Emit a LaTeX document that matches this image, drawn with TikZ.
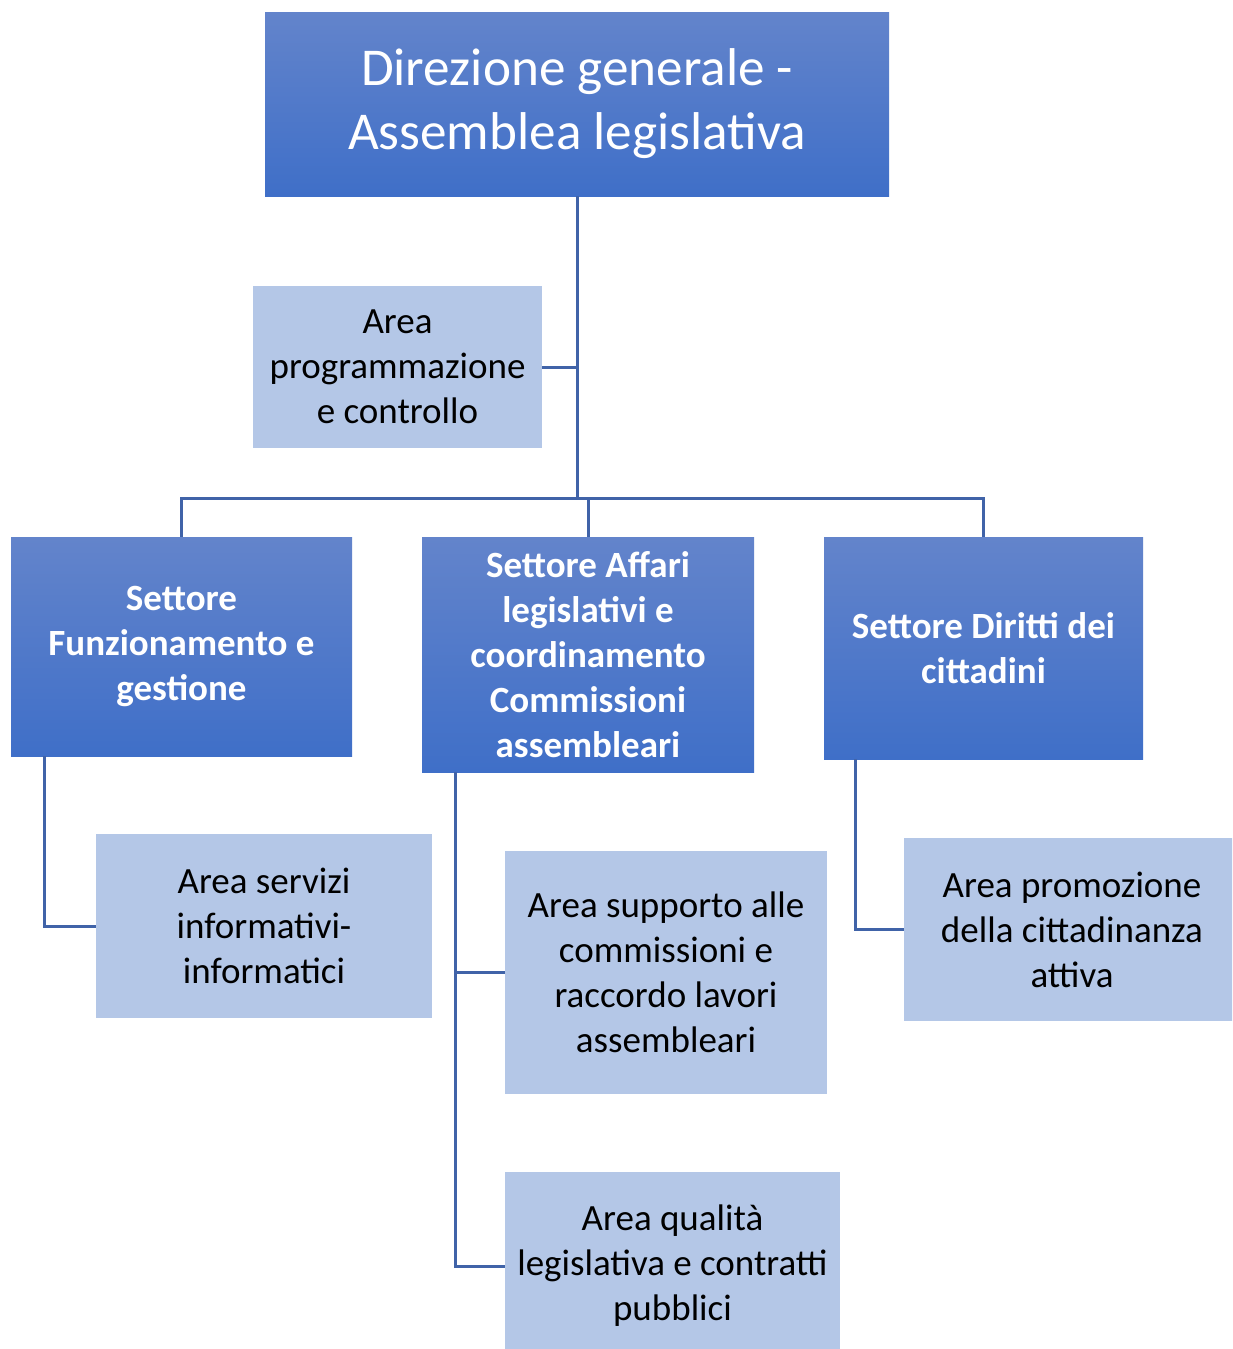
\documentclass[tikz,border=0pt]{standalone}
\usepackage{fontspec}
\setmainfont{Carlito}
\usepackage{tikz}
\definecolor{settop}{RGB}{99,132,203}
\definecolor{setbot}{RGB}{63,111,200}
\definecolor{areafill}{RGB}{180,199,231}
\definecolor{linkcol}{RGB}{64,99,168}
\def\bodyfont{\fontsize{18.5}{22.5}\selectfont}

\begin{document}
\begin{tikzpicture}[x=0.5pt,y=-0.5pt,
  settore/.style={rectangle,inner sep=0pt,top color=settop,bottom color=setbot,
    text=white,font=\bodyfont\bfseries,align=center},
  area/.style={rectangle,inner sep=0pt,fill=areafill,text=black,
    font=\bodyfont,align=center},
  link/.style={draw=linkcol,line width=1.5pt}]
\clip (0,0) rectangle (1232,1349);
\useasboundingbox (0,0) rectangle (1232,1349);
\node[settore,font=\fontsize{26.6}{32}\selectfont,minimum width=312pt,minimum height=92pt]
  (dir) at (577,104) {Direzione generale -\\Assemblea legislativa};
\node[area,minimum width=144.5pt,minimum height=81pt]
  (apc) at (397.5,367) {Area\\programmazione\\e controllo};
\node[settore,minimum width=170.5pt,minimum height=109.5pt]
  (sfg) at (181.5,646.5) {Settore\\Funzionamento e\\gestione};
\node[settore,minimum width=166pt,minimum height=117.5pt]
  (sal) at (588,654.5) {Settore Affari\\legislativi e\\coordinamento\\Commissioni\\assembleari};
\node[settore,minimum width=159.5pt,minimum height=111pt]
  (sdc) at (983.5,648) {Settore Diritti dei\\cittadini};
\node[area,minimum width=168pt,minimum height=92pt]
  (asi) at (264,926) {Area servizi\\informativi-\\informatici};
\node[area,minimum width=161pt,minimum height=121.5pt]
  (asr) at (666,972.5) {Area supporto alle\\commissioni e\\raccordo lavori\\assembleari};
\node[area,minimum width=167.5pt,minimum height=94pt]
  (aqc) at (672.5,1266) {Area qualità\\legislativa e contratti\\pubblici};
\node[area,minimum width=168pt,minimum height=91.5pt]
  (apr) at (1072,929.5) {Area promozione\\della cittadinanza\\attiva};
\coordinate (hub) at (577,498);
\draw[link] (dir.south) -- (hub);
\draw[link] (apc.east) -- (apc.east -| hub);
\draw[link] (sfg.north) |- (hub) -| (sdc.north);
\draw[link] (hub) -| (sal.north);
\draw[link] ([xshift=17pt]sfg.south west) |- (asi.west);
\draw[link] ([xshift=17pt]sal.south west) |- (aqc.west);
\draw[link] ([xshift=17pt]sal.south west) |- (asr.west);
\draw[link] ([xshift=16pt]sdc.south west) |- (apr.west);
\end{tikzpicture}
\end{document}
